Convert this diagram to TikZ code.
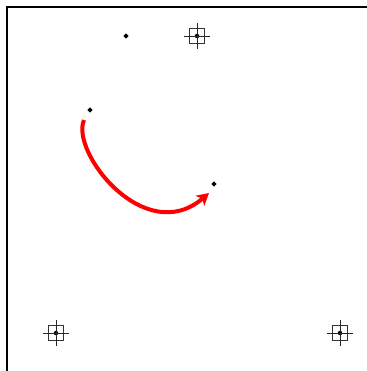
\documentclass[tikz,border=0pt]{standalone}
\usepackage{xcolor}
\usepackage{tikz}
\usetikzlibrary{positioning,arrows.meta,calc,shapes.geometric}
\tikzset{
  ctrlpt/.style={diamond,fill=black,inner sep=0pt,minimum size=4.2pt},
  handle/.style={draw=black!80,line width=0.7pt,minimum size=11.5pt,inner sep=0pt},
  crossarm/.style={draw=black!85,line width=0.7pt},
  frameline/.style={line width=1.3pt},
  curvearrow/.style={-{Stealth[length=9pt,width=10pt,inset=2.5pt]},line width=3pt,red},
}
\begin{document}
\begin{tikzpicture}[x=0.75pt,y=-0.75pt]
  \useasboundingbox (0,0) rectangle (367,371);
  % frame
  \draw[frameline] (7,371) -- (7,7) -- (367,7);
  % points
  \node[ctrlpt] (p1) at (126,36) {};
  \node[ctrlpt] (p2) at (90,110) {};
  \node[ctrlpt] (p3) at (214,184) {};
  % handles
  \foreach \n/\x/\y in {h1/197/36,h2/56/333,h3/340/333}{
    \node[handle] (\n) at (\x,\y) {};
    \fill (\n.center) circle (1.7pt);
    \draw[crossarm] ($(\n.west)+(-5,0)$) -- ($(\n.east)+(5,0)$);
    \draw[crossarm] ($(\n.north)+(0,-5)$) -- ($(\n.south)+(0,5)$);
  }
  % curve
  \coordinate (cs) at (84,120);
  \coordinate (ce) at (209,193);
  \draw[curvearrow] (cs) .. controls (70,152) and (145,248) .. (ce);
\end{tikzpicture}
\end{document}
